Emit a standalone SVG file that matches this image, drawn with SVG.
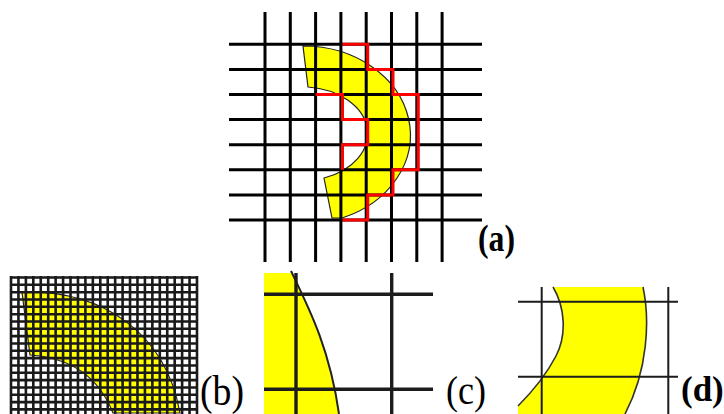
<svg xmlns="http://www.w3.org/2000/svg" width="724" height="414" viewBox="0 0 724 414">
<style>
.yel{fill:#ffff00;stroke:#222;stroke-width:1.2}
.ga{fill:none;stroke:#000;stroke-width:3}
.gb{fill:none;stroke:#1a1a1a;stroke-width:2.6}
.gc{fill:none;stroke:#1c1c1c;stroke-width:3.4}
.gd{fill:none;stroke:#1c1c1c;stroke-width:2}
.red{fill:none;stroke:#ff0000;stroke-width:3;stroke-linejoin:miter}
.lbl{font-family:"Liberation Serif","Times New Roman",serif;fill:#000}
</style>
<rect width="724" height="414" fill="#fff"/>
<g id="panel-a">
<path class="yel" d="M303,46 A107,89 0 0 1 342,218 L332,218 L324,178 A66,47 0 0 0 308,87 Z"/>
<path class="ga" d="M265,12V262M290.3,12V262M315.6,12V262M340.9,12V262M366.2,12V262M391.5,12V262M416.8,12V262M442.1,12V262
M229,44.3H482M229,69.4H482M229,94.5H482M229,119.6H482M229,144.7H482M229,169.8H482M229,194.9H482M229,220H482"/>
<path class="red" d="M342.5,44.3H367.7V69.4H393V94.5H418.3V169.8H393V194.9H367.7V220H342.5"/>
<path class="red" d="M315.6,94.5H342.5V119.6H367.7V144.7H342.5V169.8"/>
</g>
<g id="panel-b">
<path class="yel" d="M22,292 C100,290 165,330 180,413 L113,413 C100,380 75,358 30,355 Z"/>
<path class="gb" d="M11,276V414M18.44,276V414M25.88,276V414M33.32,276V414M40.76,276V414M48.2,276V414M55.64,276V414M63.08,276V414M70.52,276V414M77.96,276V414M85.4,276V414M92.84,276V414M100.28,276V414M107.72,276V414M115.16,276V414M122.6,276V414M130.04,276V414M137.48,276V414M144.92,276V414M152.36,276V414M159.8,276V414M167.24,276V414M174.68,276V414M182.12,276V414M189.56,276V414M197,276V414
M9.7,277.5H198.3M9.7,284.8H198.3M9.7,292.2H198.3M9.7,299.5H198.3M9.7,306.8H198.3M9.7,314.2H198.3M9.7,321.5H198.3M9.7,328.8H198.3M9.7,336.1H198.3M9.7,343.5H198.3M9.7,350.8H198.3M9.7,358.1H198.3M9.7,365.5H198.3M9.7,372.8H198.3M9.7,380.1H198.3M9.7,387.5H198.3M9.7,394.8H198.3M9.7,402.1H198.3M9.7,409.4H198.3"/>
</g>
<g id="panel-c">
<path d="M264,273 L293,273 C310,310 330,350 339,414 L264,414 Z" fill="#ffff00"/>
<path d="M291,271 C310,310 330,350 339,414" fill="none" stroke="#222" stroke-width="2"/>
<path class="gc" d="M296,273V414M391.7,273V414M264,294.3H433M264,389.3H433"/>
</g>
<g id="panel-d">
<path d="M553,287 C565,307 567,335 556,356 C546,375 532,392 518,406 L518,414 L625,414 C648,370 650,320 643,287 Z" fill="#ffff00"/>
<path d="M553,287 C565,307 567,335 556,356 C546,375 532,392 518,406 M625,414 C648,370 650,320 643,287" fill="none" stroke="#333" stroke-width="1.6"/>
<path class="gd" d="M541.7,287V414M668.3,287V414M518,301.7H678M518,376.7H678"/>
</g>
<g id="labels">
<text class="lbl" x="478" y="251" font-size="38" font-weight="bold" textLength="37" lengthAdjust="spacingAndGlyphs">(a)</text>
<text class="lbl" x="200" y="405" font-size="42" textLength="44" lengthAdjust="spacingAndGlyphs">(b)</text>
<text class="lbl" x="446" y="404" font-size="40" textLength="40" lengthAdjust="spacingAndGlyphs">(c)</text>
<text class="lbl" x="681" y="401" font-size="35" font-weight="bold">(d)</text>
</g>
</svg>
